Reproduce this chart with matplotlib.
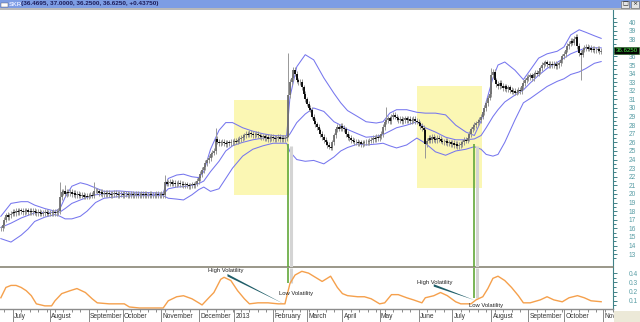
import numpy as np
import pandas as pd
import matplotlib
matplotlib.use("Agg")
import matplotlib.pyplot as plt
from matplotlib.patches import Rectangle
from matplotlib import transforms

plt.rcParams['font.family'] = ['Liberation Sans', 'DejaVu Sans']

ticker = "SKR"
quote = "(36.4695, 37.0000, 36.2500, 36.6250, +0.43750)"
last_open, last_high, last_low = 36.4695, 37.0, 36.25
start_date = "2012-06-21"

# daily closes, one per trading day
close = [
    16.0, 16.4, 17.0, 17.6, 17.3, 17.5,
    17.7, 17.9, 17.8, 18.0, 17.9, 18.1, 18.0, 17.9, 18.0, 18.1, 17.9, 18.0,
    17.9, 18.0, 17.9, 17.8, 17.9, 17.8, 17.7, 17.8, 17.9, 17.8, 17.7, 17.8, 17.8,
    17.9, 17.8, 17.9, 18.0, 19.6, 20.2,
    20.3, 20.0, 20.2, 20.1, 20.2, 20.0, 20.1, 19.9, 20.0, 19.9, 19.8, 19.9, 19.7, 19.8, 19.7, 19.8, 19.9, 19.8, 20.4,
    20.4, 20.3, 20.1, 20.2, 20.0, 20.1, 20.0, 20.1, 20.0, 19.9,
    20.0, 20.1, 20.0, 19.9, 20.0, 20.0, 19.9, 20.0, 20.0, 19.9,
    19.9, 20.0, 19.9, 19.9, 20.0, 19.9, 19.9, 20.0, 19.9, 20.0,
    19.9, 19.9, 20.0, 19.9, 19.9, 19.9, 20.0, 19.9, 19.9, 20.0, 19.9,
    21.4, 21.2, 21.3, 21.4, 21.2, 21.3, 21.1, 21.2, 21.3, 21.1, 21.2, 21.0, 21.1, 21.0, 20.9, 21.0, 21.1, 21.0, 21.2,
    21.5, 21.8, 22.3, 22.8, 23.1, 23.6, 23.9, 24.2, 24.6, 24.8, 25.0,
    26.4, 26.1, 25.9, 26.0, 26.1, 25.9, 25.8, 26.0, 25.9, 26.1, 26.0, 26.2, 26.1, 26.3, 26.4, 26.5, 26.6,
    26.8, 27.0, 26.9, 27.1, 27.0, 26.8, 26.9, 27.0, 26.8, 26.7,
    26.6, 26.7, 26.5, 26.6, 26.4, 26.5, 26.6, 26.5, 26.4, 26.5, 26.6, 26.4, 26.5, 26.4, 26.5, 26.6,
    31.5, 33.0, 33.5, 34.4, 34.0, 33.2, 33.0,
    33.0, 32.4, 31.6, 31.0, 30.5, 30.0, 29.8, 29.0, 28.5, 28.1, 27.8,
    27.4, 27.0, 26.6, 26.3, 26.0, 25.7, 25.5, 25.4,
    26.0, 26.8, 27.5, 27.8, 27.6, 27.9, 27.7, 27.5,
    27.0, 26.6, 26.5, 26.3,
    26.2, 26.0, 26.1, 25.9, 26.0, 25.8, 25.9, 26.0, 26.1, 26.0, 26.2, 26.3,
    26.5, 26.4, 26.6, 26.5, 26.7, 27.0, 27.8,
    28.4, 28.6, 28.8, 28.5, 29.0,
    29.2, 29.0, 28.8, 28.6, 28.7, 28.5, 28.6, 28.8, 28.6, 28.7, 28.5, 28.6, 28.7, 28.5,
    28.4, 28.2, 27.9, 27.7, 27.4, 25.8,
    26.2, 26.5, 26.3, 26.6, 26.4, 26.3, 26.5, 26.4, 26.2,
    26.1, 26.0, 26.2, 25.9, 26.0, 25.8, 25.9, 25.7, 25.8, 25.6, 25.7, 25.8,
    26.0, 26.3, 26.2, 26.5, 27.0, 27.5, 27.8,
    28.0, 28.2, 28.4, 28.6, 29.0, 29.5, 30.0, 30.6, 31.2, 31.6,
    33.8, 34.2, 33.2,
    32.8, 32.5, 32.9, 32.6, 32.3, 32.5, 32.2, 32.4, 32.1,
    31.9, 32.0, 31.8, 31.9, 32.1, 32.0,
    32.5, 32.9, 33.2, 33.5,
    33.6, 33.8, 33.5, 33.9, 34.1, 34.0, 34.3, 34.6,
    35.0, 35.2, 35.3, 35.1, 35.0,
    35.1, 35.0, 35.1, 34.9, 35.0, 35.2,
    35.6, 36.0, 36.3, 36.8,
    37.2, 37.5, 37.8, 37.6, 38.0, 38.3,
    37.2, 36.4, 36.2, 36.8, 37.0,
    37.1, 36.9, 37.0, 36.8, 36.9, 36.7, 36.8, 36.9, 36.6, 36.625,
]

# long wicks seen on the chart: bar -> (low, high)
spikes = {3: (None, 17.8), 35: (None, 21.4), 38: (None, 21.0), 55: (None, 21.4),
          97: (None, 22.2), 127: (None, 27.7), 170: (26.6, 36.4), 228: (None, 30.1),
          251: (24.2, None), 290: (None, 34.7), 343: (33.3, None)}

# bollinger bands (bar index, values)
band_x = [0, 6, 12, 16, 20, 26, 32, 35, 38, 42, 47, 51, 56, 61, 70, 79, 88, 96, 99,
          104, 108, 113, 117, 120, 124, 129, 133, 137, 143, 149, 155, 161, 169, 171,
          175, 180, 185, 191, 197, 201, 205, 211, 216, 222, 226, 230, 234, 240, 246,
          251, 257, 263, 269, 275, 280, 284, 287, 291, 294, 298, 304, 309, 313, 318,
          323, 329, 333, 337, 342, 346, 351, 355]
upper = [17.4, 18.9, 19.1, 19.1, 18.7, 18.3, 18.0, 18.3, 19.6, 20.9, 21.3, 21.1, 20.7,
         20.3, 20.35, 20.2, 20.15, 20.1, 21.8, 22.2, 22.3, 22.0, 21.9, 22.6, 25.2, 27.4,
         28.3, 28.3, 27.7, 27.3, 27.0, 26.8, 26.75, 31.3, 34.8, 36.2, 35.6, 33.5, 31.7,
         30.6, 29.7, 29.0, 28.4, 28.25, 28.4, 29.4, 29.8, 29.8, 29.5, 29.4, 29.4, 29.2,
         28.0, 27.2, 26.8, 28.5, 30.7, 33.5, 35.0, 35.35, 34.4, 33.3, 34.4, 35.8, 36.3,
         36.6, 37.1, 38.5, 39.1, 38.8, 38.4, 38.1]
middle = [16.1, 16.6, 17.2, 17.5, 17.8, 17.85, 17.85, 17.9, 18.3, 18.9, 19.3, 19.6, 19.9,
          20.0, 20.05, 20.0, 19.95, 19.95, 20.6, 20.8, 20.85, 21.0, 21.2, 21.5, 22.6, 23.8,
          25.0, 25.6, 26.0, 26.3, 26.5, 26.55, 26.5, 27.0, 28.3, 29.3, 30.0, 29.6, 28.4,
          28.0, 27.5, 27.0, 26.6, 26.7, 26.9, 27.3, 27.7, 28.0, 28.4, 27.7, 27.2, 26.6,
          26.3, 26.3, 26.4, 26.8, 27.7, 29.0, 29.8, 30.7, 31.5, 32.1, 32.9, 33.8, 34.6,
          35.3, 35.8, 36.3, 36.7, 37.0, 37.0, 37.0]
lower = [14.8, 14.4, 15.2, 15.9, 16.8, 17.3, 17.6, 17.4, 17.1, 17.1, 17.4, 18.0, 19.0,
         19.5, 19.7, 19.8, 19.8, 19.8, 19.5, 19.4, 19.3, 19.9, 20.5, 20.8, 20.3, 20.6,
         21.8, 23.0, 24.4, 25.2, 25.6, 25.9, 25.9, 24.9, 24.0, 23.8, 23.9, 23.5, 24.3,
         25.0, 25.4, 25.8, 25.7, 25.8, 25.9, 25.6, 25.35, 25.7, 26.5, 25.9, 24.9, 24.5,
         25.0, 25.2, 25.5, 25.2, 24.6, 24.4, 24.6, 26.0, 28.6, 30.6, 31.1, 31.8, 32.5,
         33.1, 33.4, 33.9, 34.2, 34.6, 35.2, 35.4]

# band width indicator (lower panel)
bw_x = [0, 3, 6, 9, 12, 15, 18, 21, 26, 30, 32, 36, 41, 45, 50, 54, 57, 64, 73, 76, 82,
        94, 96, 99, 104, 108, 113, 117, 119, 123, 126, 130, 132, 136, 140, 144, 147, 152,
        158, 164, 168, 171, 174, 178, 182, 186, 187, 190, 193, 195, 199, 202, 205, 211,
        215, 219, 224, 227, 231, 235, 240, 244, 249, 251, 256, 260, 264, 269, 272, 278,
        281, 285, 288, 291, 294, 298, 302, 306, 309, 313, 319, 323, 327, 332, 336, 341,
        345, 349, 355]
bw = [0.133, 0.245, 0.267, 0.267, 0.245, 0.21, 0.156, 0.067, 0.045, 0.045, 0.10, 0.178,
      0.21, 0.233, 0.19, 0.122, 0.078, 0.067, 0.067, 0.033, 0.022, 0.022, 0.022, 0.10,
      0.144, 0.155, 0.122, 0.078, 0.055, 0.133, 0.19, 0.333, 0.355, 0.32, 0.21, 0.122,
      0.067, 0.078, 0.078, 0.067, 0.067, 0.29, 0.38, 0.42, 0.40, 0.355, 0.344, 0.31,
      0.344, 0.367, 0.245, 0.178, 0.156, 0.144, 0.144, 0.122, 0.067, 0.078, 0.167,
      0.167, 0.133, 0.11, 0.078, 0.133, 0.155, 0.19, 0.156, 0.089, 0.067, 0.067, 0.11,
      0.144, 0.233, 0.344, 0.367, 0.32, 0.245, 0.156, 0.078, 0.078, 0.11, 0.144, 0.11,
      0.089, 0.133, 0.156, 0.133, 0.10, 0.09]

# highlighted squeeze regions: (bar from, bar to, price low, price high)
boxes = [(138, 170.5, 19.9, 30.9), (246, 284.5, 20.7, 32.6)]
# breakout markers: (bar, price where line starts, band width where it ends)
signals = [(170, 25.8, 0.29), (280, 25.8, 0.125)]
# notes: high label pos, arrow start, arrow end, low label pos
notes = [((122.3, 0.433), (134, 0.378), (167, 0.07), (164.4, 0.178)),
         ((246, 0.297), (256, 0.267), (280, 0.108), (277, 0.044))]

W, H = 640, 322
fig = plt.figure(figsize=(W / 100, H / 100), dpi=100)
fig.patch.set_facecolor('white')

ax1 = fig.add_axes([0, 1 - 267 / H, 613 / W, 257 / H])
ax2 = fig.add_axes([0, 1 - 309 / H, 613 / W, 41 / H], sharex=ax1)

x = np.arange(len(close))
c = np.array(close)
o = np.r_[c[0], c[:-1]]
o[-1] = last_open
pad = 0.32
hi = np.maximum(o, c) + pad
lo = np.minimum(o, c) - pad
hi[-1], lo[-1] = last_high, last_low
for k, (l, h) in spikes.items():
    if l is not None:
        lo[k] = l
    if h is not None:
        hi[k] = h

for b0, b1, p0, p1 in boxes:
    ax1.add_patch(Rectangle((b0, p0), b1 - b0, p1 - p0, facecolor='#fbf7b4',
                            edgecolor='none', zorder=0.5))

band_col = '#7676ee'
ax1.plot(band_x, upper, color=band_col, lw=0.75, zorder=2)
ax1.plot(band_x, middle, color=band_col, lw=0.75, zorder=2)
ax1.plot(band_x, lower, color=band_col, lw=0.75, zorder=2)

ax1.vlines(x, lo, hi, color='#989898', lw=0.7, zorder=3)
down = c < o
ax1.vlines(x[down], c[down], o[down], color='black', lw=1.3, zorder=3.2)
ax1.vlines(x[~down], o[~down], c[~down], color='#6e6e6e', lw=1.3, zorder=3.1)

y1min, y1max = 11.5, 41.4
y2min, y2max = 0.011, 0.456
ax1.set_ylim(y1min, y1max)
ax2.set_ylim(y2min, y2max)
ax1.set_xlim(-0.5, 358)

green = '#62a83a'
for b, p, v in signals:
    ax1.vlines(b + 1.6, y1min, p - 0.2, color='#d4d4d4', lw=2.2, zorder=3.5)
    ax1.vlines(b, y1min, p, color=green, lw=1.2, zorder=4)
    ax2.vlines(b + 1.6, v, y2max, color='#d4d4d4', lw=2.2, zorder=1.5)
    ax2.vlines(b, v, y2max, color=green, lw=1.2, zorder=4)

ax2.plot(bw_x, bw, color='#f5a04c', lw=1.0, zorder=2)

for (hx, hy), (ax0, ay0), (ax1_, ay1), (lx, ly) in notes:
    ax2.text(hx, hy, "High Volatility", fontsize=4.2, color='#222222', va='center', ha='left', zorder=5)
    d = 0.013
    ax2.fill([ax0, ax0, ax1_], [ay0 + d, ay0 - d, ay1], color='#1f5d68', lw=0, zorder=5)
    ax2.text(lx, ly, "Low Volatility", fontsize=4.2, color='#222222', va='center', ha='left', zorder=5)

# axes styling
teal = '#3f8288'
lab = '#5a9ea6'
for ax in (ax1, ax2):
    ax.set_facecolor('white')
    ax.spines['left'].set_visible(False)
    ax.spines['top'].set_visible(False)
    ax.spines['right'].set_color(teal)
    ax.spines['right'].set_linewidth(0.8)
    ax.yaxis.tick_right()
    ax.tick_params(axis='y', which='both', colors=teal, labelcolor=lab, labelsize=4.8,
                   direction='out', width=0.7)
    ax.tick_params(axis='y', which='major', length=3.2, pad=8)
    ax.tick_params(axis='y', which='minor', length=1.8)
ax1.spines['bottom'].set_color('#7e7b6a')
ax1.spines['bottom'].set_linewidth(1.1)
ax2.spines['bottom'].set_color('#8c8c8c')
ax2.spines['bottom'].set_linewidth(1.0)

price_ticks = list(range(13, 41))
ax1.set_yticks(price_ticks)
# the 37 label sits under the last-price tag
ax1.set_yticklabels(['' if v == 37 else str(v) for v in price_ticks])
ax1.set_yticks(np.arange(12.5, 41, 1.0), minor=True)
ax2.set_yticks([0.1, 0.2, 0.3, 0.4])
ax2.set_yticklabels(['0.1', '0.2', '0.3', '0.4'])
ax2.set_yticks([0.05, 0.15, 0.25, 0.35], minor=True)
ax1.tick_params(axis='x', which='both', bottom=False, labelbottom=False)

days = pd.bdate_range(start_date, periods=len(close) + 10)
month_pos = [i for i in range(1, len(days)) if days[i].month != days[i - 1].month]
week_pos = [i for i in range(len(days)) if days[i].weekday() == 0]
ax2.set_xticks(month_pos)
ax2.set_xticks(week_pos, minor=True)
ax2.tick_params(axis='x', which='major', length=10, width=0.7, color='#8a8a8a', labelbottom=False)
ax2.tick_params(axis='x', which='minor', length=2.4, width=0.7, color='#8a8a8a')
tr = transforms.blended_transform_factory(ax2.transData, ax2.transAxes)
for p in month_pos:
    d = days[p]
    name = str(d.year) if d.month == 1 else d.strftime('%B')
    ax2.text(p + 0.8, -0.18, name, transform=tr, fontsize=4.8, color='#333333',
             va='center', ha='left', clip_on=False)

# last price tag
trp = transforms.blended_transform_factory(ax1.transAxes, ax1.transData)
ax1.text(1.004, close[-1] + 0.1, "%.4f" % close[-1], transform=trp, fontsize=4.4,
         color='#48f048', va='center', ha='left', zorder=6, clip_on=False,
         bbox=dict(boxstyle='square,pad=0.18', fc='#050505', ec='#2e6e2e', lw=0.5))

# title bar
fig.patches.append(Rectangle((0, 1 - 8 / H), 1, 8 / H, transform=fig.transFigure,
                             facecolor='#7d9de4', edgecolor='none', zorder=5))
fig.patches.append(Rectangle((0, 1 - 9.5 / H), 1, 1.5 / H, transform=fig.transFigure,
                             facecolor='#b9b9b9', edgecolor='none', zorder=5))
fig.patches.append(Rectangle((1 / W, 1 - 7 / H), 7 / W, 4 / H, transform=fig.transFigure,
                             facecolor='white', edgecolor='#556', lw=0.3, zorder=6))
fig.text(9 / W, 1 - 4 / H, ticker, fontsize=4.6, color='#dfe6ff', weight='bold',
         va='center', ha='left', zorder=7)
fig.text(21 / W, 1 - 4 / H, quote, fontsize=4.6, color='#1c1c5a', weight='bold',
         va='center', ha='left', zorder=7)
for bx, sym in ((621, '\u25a1'), (631, '\u00d7')):
    fig.patches.append(Rectangle((bx / W, 1 - 7.5 / H), 8 / W, 7 / H, transform=fig.transFigure,
                                 facecolor='#e4e4e4', edgecolor='#606060', lw=0.4, zorder=6))
    fig.text((bx + 4) / W, 1 - 4 / H, sym, fontsize=4.5, color='#202020', va='center',
             ha='center', zorder=7, family='DejaVu Sans')

# beige corner
fig.patches.append(Rectangle((613.5 / W, 0), 1, 11 / H, transform=fig.transFigure,
                             facecolor='#ece9d8', edgecolor='none', zorder=10))

fig.savefig('out.png', dpi=100)
